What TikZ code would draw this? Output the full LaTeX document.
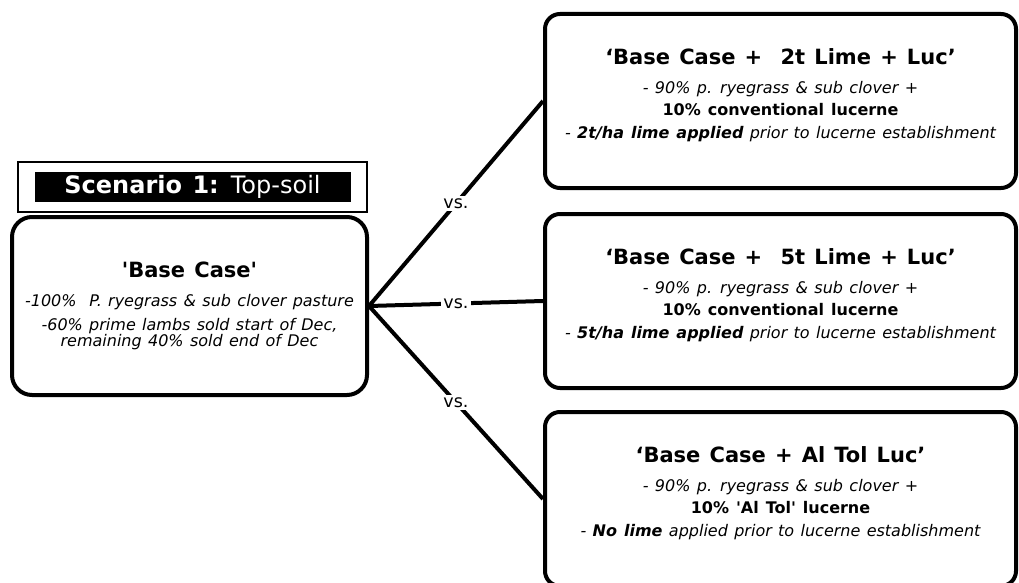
\documentclass[tikz,border=0pt]{standalone}
\usepackage{fontspec}
\setmainfont{DejaVu Sans}[WordSpace=1.25]
\usetikzlibrary{positioning}

\newcommand\headfont{\fontsize{21}{22}\selectfont\bfseries}

\begin{document}
\begin{tikzpicture}[
  x=1pt, y=-1pt,
  font=\fontsize{16}{16}\selectfont,
  case/.style={draw, line width=4pt, fill=white, align=center, inner sep=0pt},
  basecase/.style={case, rounded corners=20pt, minimum width=355pt, minimum height=178pt},
  option/.style={case, rounded corners=15pt, minimum width=471pt, minimum height=174pt, text depth=15pt},
  link/.style={line width=4pt},
  vs/.style={midway, fill=white, inner sep=2pt, font=\fontsize{17.5}{17.5}\selectfont}
]
  \useasboundingbox (0,0) rectangle (1019,583);

  % scenario label
  \node[draw, line width=1.5pt, minimum width=349pt, minimum height=50pt] (frame) at (192.5,187) {};
  \node[fill=black, text=white, minimum width=316pt, minimum height=30pt, inner sep=0pt,
        font=\fontsize{24}{24}\selectfont] (scenario) at (frame.center) {\textbf{Scenario 1:} Top-soil};

  \node[basecase] (base) at (189.5,306) {
    {\headfont \textquotesingle Base Case\textquotesingle}\\[12.5pt]
    \itshape -100\%\ \ P. ryegrass \& sub clover pasture\\[8pt]
    \itshape -60\% prime lambs sold start of Dec,\\
    \itshape remaining 40\% sold end of Dec
  };

  \node[option] (lime2) at (780.5,101) {
    {\headfont ‘Base Case +\ \ 2t Lime + Luc’}\\[12.5pt]
    \itshape - 90\% p. ryegrass \& sub clover +\\[6pt]
    \textbf{10\% conventional lucerne}\\[7pt]
    \itshape - \textbf{2t/ha lime applied} prior to lucerne establishment
  };

  \node[option, below=22pt of lime2] (lime5) {
    {\headfont ‘Base Case +\ \ 5t Lime + Luc’}\\[12.5pt]
    \itshape - 90\% p. ryegrass \& sub clover +\\[6pt]
    \textbf{10\% conventional lucerne}\\[7pt]
    \itshape - \textbf{5t/ha lime applied} prior to lucerne establishment
  };

  \node[option, below=20pt of lime5] (altol) {
    {\headfont ‘Base Case + Al Tol Luc’}\\[12.5pt]
    \itshape - 90\% p. ryegrass \& sub clover +\\[6pt]
    \textbf{10\% \textquotesingle Al Tol\textquotesingle\ lucerne}\\[7pt]
    \itshape - \textbf{No lime} applied prior to lucerne establishment
  };

  \draw[link] (base.east) -- (lime2.west) node[vs] {vs.};
  \draw[link] (base.east) -- (lime5.west) node[vs] {vs.};
  \draw[link] (base.east) -- (altol.west) node[vs] {vs.};
\end{tikzpicture}
\end{document}
